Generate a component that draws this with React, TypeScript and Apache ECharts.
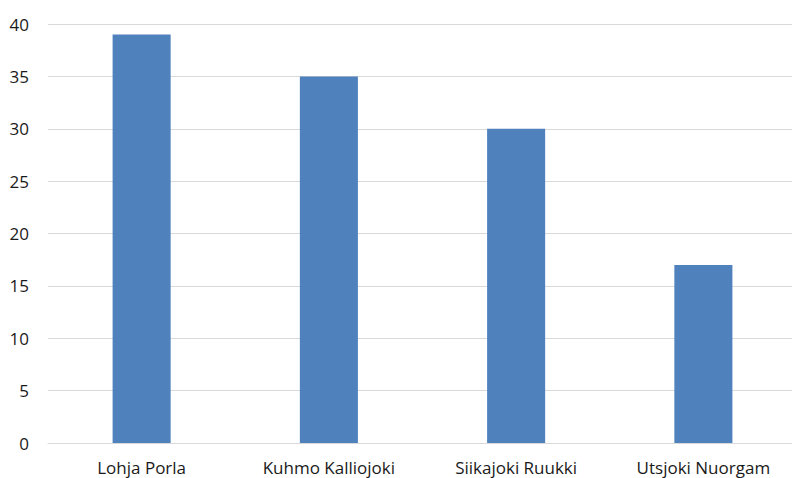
import React, { useEffect, useRef } from "react";
import * as echarts from "echarts";

const categories = ["Lohja Porla", "Kuhmo Kalliojoki", "Siikajoki Ruukki", "Utsjoki Nuorgam"];
const values = [39, 35, 30, 17];

export default function App() {
  const ref = useRef<HTMLDivElement>(null);
  useEffect(() => {
    if (!ref.current) return;
    const chart = echarts.init(ref.current, undefined, { renderer: "svg" });
    chart.setOption({
      animation: false,
      grid: { left: 48, right: 3, top: 24, bottom: 35, containLabel: false },
      xAxis: {
        type: "category",
        data: categories,
        axisLine: { show: true, lineStyle: { color: "#D9D9D9", width: 1 } },
        axisTick: { show: false },
        axisLabel: { color: "#1a1a1a", fontSize: 17, fontFamily: "Open Sans", margin: 16 },
      },
      yAxis: {
        type: "value",
        min: 0,
        max: 40,
        interval: 5,
        axisLine: { show: false },
        axisTick: { show: false },
        splitLine: { lineStyle: { color: "#D9D9D9", width: 1 } },
        axisLabel: { color: "#1a1a1a", fontSize: 17, fontFamily: "Open Sans", margin: 19 },
      },
      series: [
        {
          type: "bar",
          data: values,
          barWidth: "31%",
          itemStyle: { color: "#4F81BD" },
        },
      ],
    });
    return () => chart.dispose();
  }, []);
  return (
    <div
      ref={ref}
      style={{ position: "fixed", left: 0, top: 0, width: 800, height: 478, background: "#fff" }}
    />
  );
}
